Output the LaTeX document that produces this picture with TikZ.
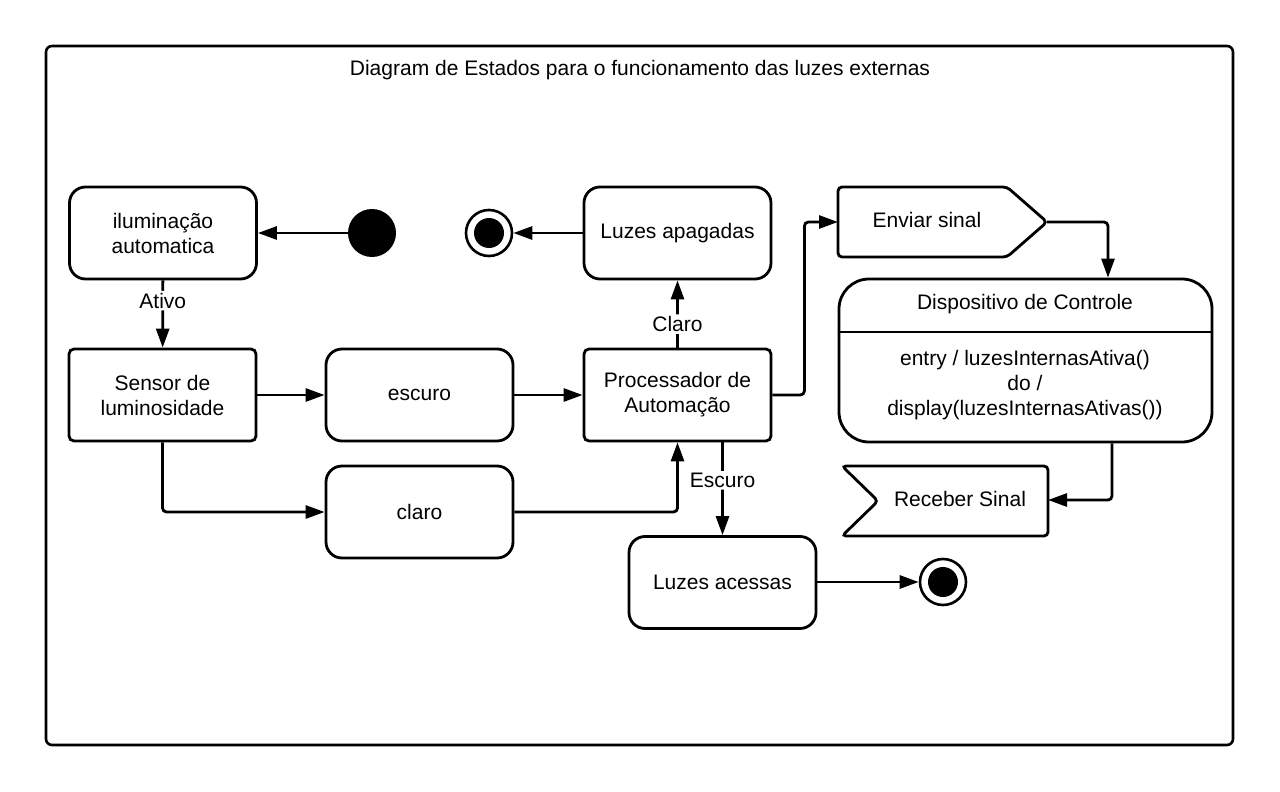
\documentclass[tikz,border=0pt]{standalone}
\usepackage{fontspec}
\setmainfont{Liberation Sans}
\usetikzlibrary{arrows.meta}
\begin{document}
\begin{tikzpicture}[x=1pt,y=-1pt,
  every node/.style={font=\fontsize{21}{25}\selectfont, align=center},
  state/.style={draw, line width=2.8pt, rounded corners=16pt, minimum width=187pt, minimum height=92pt, inner sep=0pt},
  sqstate/.style={state, rounded corners=5pt},
  conn/.style={line width=2.8pt, -{Triangle[length=19pt,width=13pt]}, rounded corners=4pt},
  lbl/.style={fill=white, inner sep=2pt},
  shp/.style={line width=2.8pt, rounded corners=4pt},
]
\useasboundingbox (0,0) rectangle (1280,792);
% frame
\draw[line width=2.6pt, rounded corners=6pt] (46,46) rectangle (1233,745);
\node (title) at (640,70) {Diagram de Estados para o funcionamento das luzes externas};

% states
\node[state] (ilum) at (163,233) {iluminação\\automatica};
\node[circle, fill, minimum size=48pt, inner sep=0pt] (init) at (372,233) {};
\node[sqstate] (sensor) at (162.5,395) {Sensor de\\luminosidade};
\node[state] (escuro) at (419.5,395) {escuro};
\node[state] (claro) at (419.5,512) {claro};
\node[sqstate] (proc) at (677.5,395) {Processador de\\Automação};
\node[state] (apag) at (677.5,233) {Luzes apagadas};
\node[circle, draw, line width=2.6pt, minimum size=46pt, inner sep=0pt] (fin1) at (489,233) {};
\fill (fin1) circle (15pt);
\node[state] (acess) at (722.5,582.5) {Luzes acessas};
\node[circle, draw, line width=2.6pt, minimum size=46pt, inner sep=0pt] (fin2) at (943,582) {};
\fill (fin2) circle (15pt);

% send signal
\draw[shp] (838,187) -- (1007,187) -- (1047,222) -- (1007,257) -- (838,257) -- cycle;
\node (enviar) at (927,220) {Enviar sinal};
\coordinate (envW) at (838,222);
\coordinate (envE) at (1047,222);

% device
\node[draw, line width=2.8pt, rounded corners=30pt, minimum width=373pt, minimum height=163pt, inner sep=0pt] (disp) at (1025.5,360.5) {};
\draw[line width=2.8pt] (disp.west |- 0,332) -- (disp.east |- 0,332);
\node (disptitle) at (1025,304) {Dispositivo de Controle};
\node (dispbody) at (1025,385) {entry / luzesInternasAtiva()\\do /\\display(luzesInternasAtivas())};

% receive signal
\draw[shp] (842,466) -- (1048,466) -- (1048,536) -- (842,536) -- (878,501) -- cycle;
\node (receber) at (960,499) {Receber Sinal};
\coordinate (recE) at (1048,500);

% connectors
\draw[conn] (init) -- (ilum.east);
\draw[conn] (ilum) -- node[lbl, pos=0.3] {Ativo} (sensor);
\draw[conn] (sensor) -- (escuro);
\draw[conn] (escuro) -- (proc);
\draw[conn] (sensor.south) |- (claro.west);
\draw[conn] (claro.east) -| (proc.south);
\draw[conn] (proc.north) -- node[lbl, pos=0.35] {Claro} (apag.south);
\draw[conn] (apag.west) -- (fin1);
\draw[conn] (acess.north |- proc.south) -- node[lbl, pos=0.41] {Escuro} (acess.north);
\draw[conn] (acess.east |- fin2) -- (fin2);
\draw[conn] (proc.east) -- ++(32,0) |- (envW);
\draw[conn] (envE) -| ([xshift=82.5pt]disp.north);
\draw[conn] ([xshift=86.5pt]disp.south) |- (recE);
\end{tikzpicture}
\end{document}
